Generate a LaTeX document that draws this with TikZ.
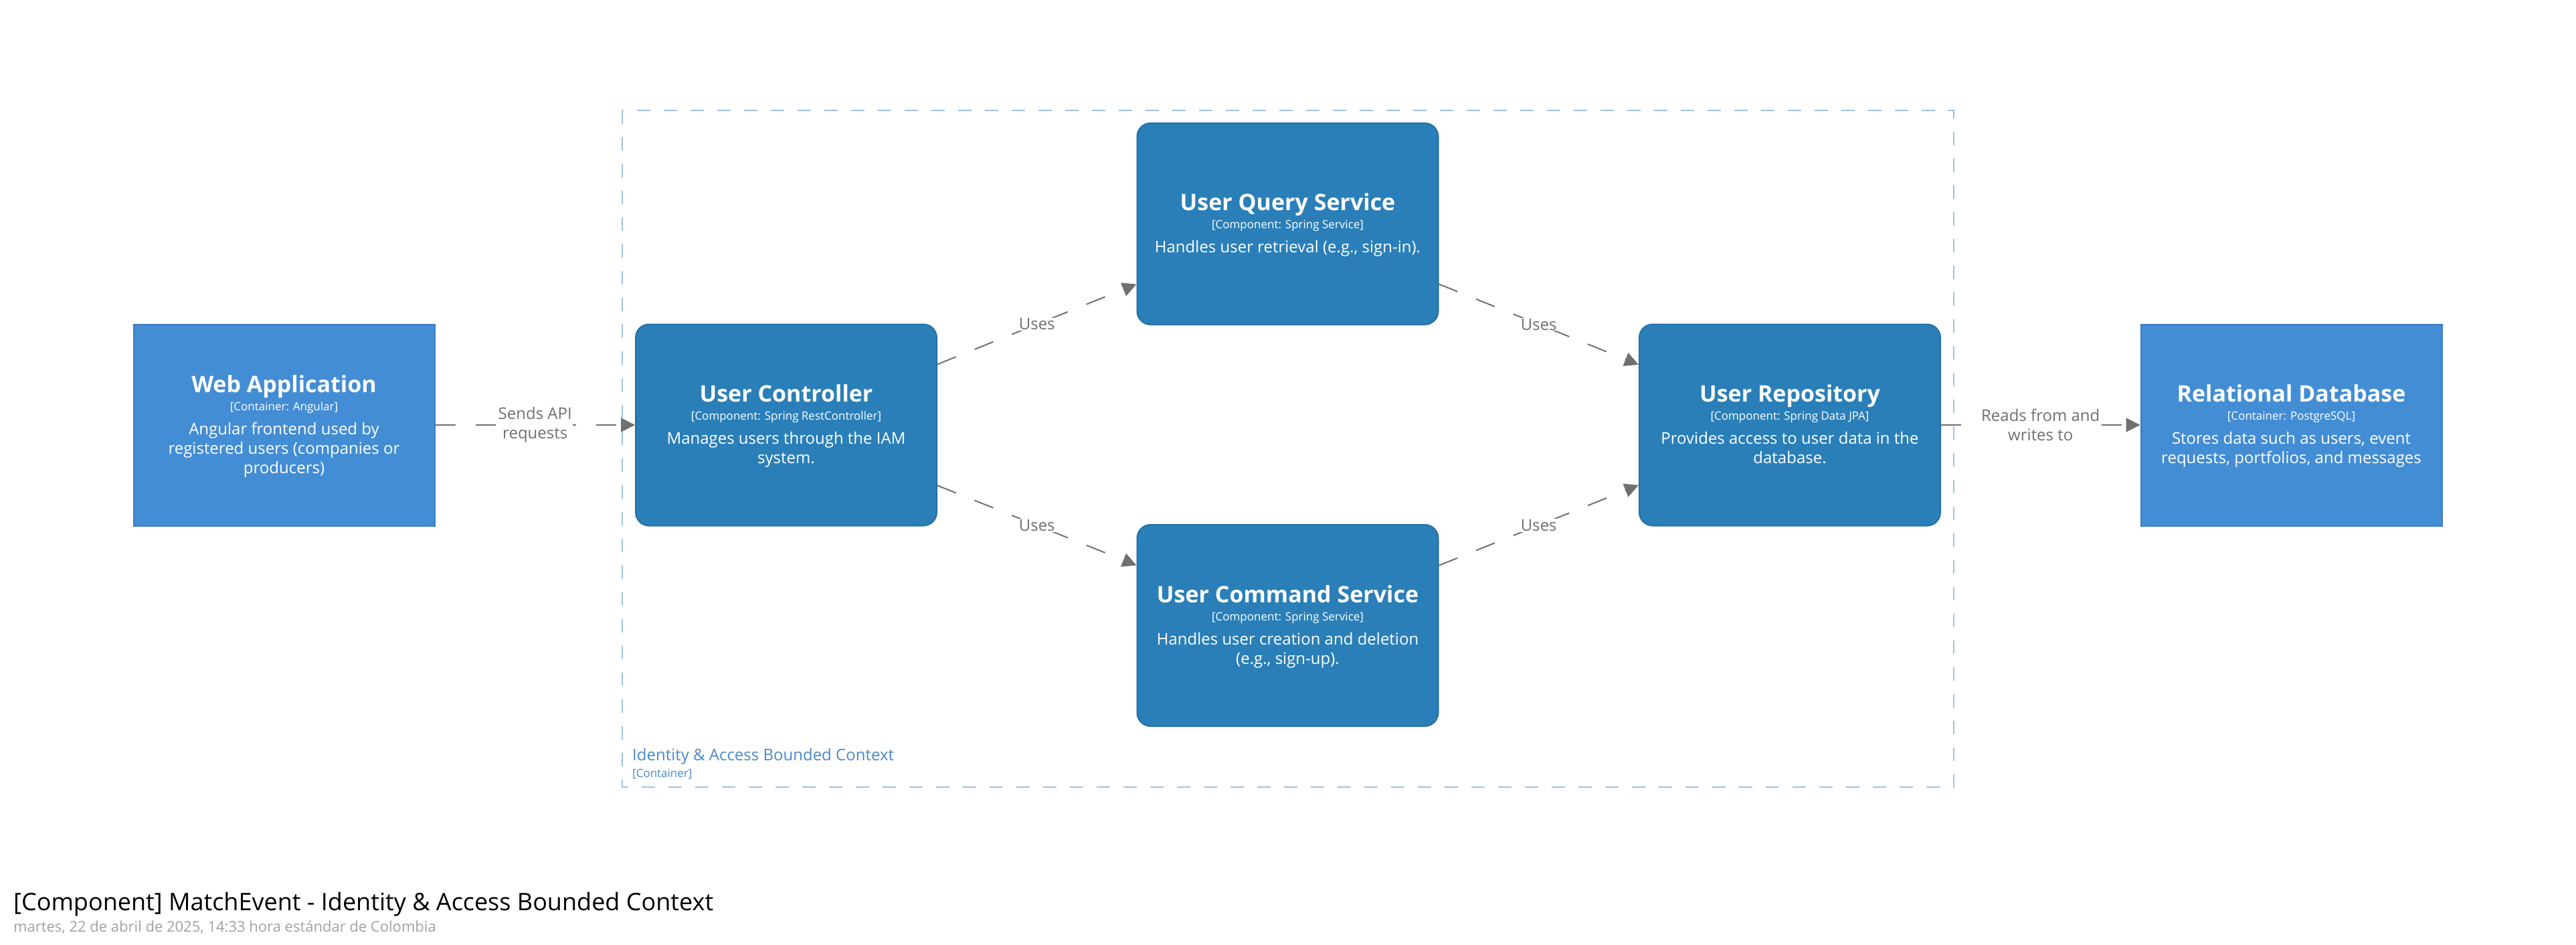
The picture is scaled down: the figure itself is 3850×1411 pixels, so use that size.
\documentclass[tikz,border=0pt]{standalone}
\usepackage{fontspec}
\setmainfont{Open Sans}
\usetikzlibrary{arrows.meta}
\definecolor{contfill}{HTML}{438DD5}
\definecolor{contline}{HTML}{3A7BBF}
\definecolor{compfill}{HTML}{2A7FB8}
\definecolor{compline}{HTML}{2470A6}
\definecolor{relgray}{HTML}{707070}
\definecolor{bndline}{HTML}{9EC1E3}
\definecolor{bndtext}{HTML}{4A88C8}
\definecolor{dategray}{HTML}{A0A0A0}
\tikzset{
  boxbase/.style={minimum width=450pt, minimum height=301pt, inner sep=0pt, line width=2pt},
  contbox/.style={boxbase, draw=contline, fill=contfill},
  compbox/.style={boxbase, draw=compline, fill=compfill, rounded corners=20pt},
  nametext/.style={anchor=base, inner sep=0pt, text=white, font=\fontsize{34}{40}\selectfont\bfseries},
  metatext/.style={anchor=base, inner sep=0pt, text=white, font=\fontsize{17}{20}\selectfont},
  desctext/.style={anchor=base, inner sep=0pt, text=white, font=\fontsize{24}{29}\selectfont},
  rel/.style={draw=relgray, line width=2pt, dash pattern=on 30pt off 30pt, -{Triangle[length=21pt,width=21pt]}},
  rellabel/.style={fill=white, inner sep=1pt, text=relgray, align=center, font=\fontsize{24}{29}\selectfont},
}
\newcommand\cbox[8]{%
  \node[#2] (#1) at (#3,#4) {};
  \pgfmathsetmacro\nb{-49+(3-#7)*14.5}
  \node[nametext] (#1-n) at (#3,{#4+\nb}) {#5};
  \node[metatext] (#1-m) at (#3,{#4+\nb+27}) {#6};
  \foreach \ln [count=\i] in {#8} {
    \node[desctext] (#1-d\i) at (#3,{#4+\nb+63+29*(\i-1)}) {\ln};
  }
}
\begin{document}
\begin{tikzpicture}[x=1pt, y=-1pt]
\useasboundingbox (0,0) rectangle (3850,1411);
% boundary
\draw[bndline, line width=2pt, dash pattern=on 20pt off 20pt] (930,165) rectangle (2920,1176);
\node[anchor=base west, inner sep=0pt, text=bndtext, font=\fontsize{24}{29}\selectfont] (bndname) at (945,1136) {Identity \& Access Bounded Context};
\node[anchor=base west, inner sep=0pt, text=bndtext, font=\fontsize{17}{20}\selectfont] (bndmeta) at (945,1161) {[Container]};
% elements
\cbox{web}{contbox}{424.5}{635}{Web Application}{[Container: Angular]}{3}{{Angular frontend used by},{registered users (companies or},{producers)}}
\cbox{uc}{compbox}{1175}{635}{User Controller}{[Component: Spring RestController]}{2}{{Manages users through the IAM},{system.}}
\cbox{uqs}{compbox}{1924.5}{334.5}{User Query Service}{[Component: Spring Service]}{1}{{Handles user retrieval (e.g., sign-in).}}
\cbox{ucs}{compbox}{1924.5}{934.5}{User Command Service}{[Component: Spring Service]}{2}{{Handles user creation and deletion},{(e.g., sign-up).}}
\cbox{ur}{compbox}{2675}{635}{User Repository}{[Component: Spring Data JPA]}{2}{{Provides access to user data in the},{database.}}
\cbox{db}{contbox}{3424.5}{635}{Relational Database}{[Container: PostgreSQL]}{2}{{Stores data such as users, event},{requests, portfolios, and messages}}
% relationships
\draw[rel] (web) -- node[rellabel] (l1) {Sends API\\requests} (uc);
\draw[rel] (uc) -- node[rellabel] (l2) {Uses} (uqs);
\draw[rel] (uc) -- node[rellabel] (l3) {Uses} (ucs);
\draw[rel] (uqs) -- node[rellabel] (l4) {Uses} (ur);
\draw[rel] (ucs) -- node[rellabel] (l5) {Uses} (ur);
\draw[rel] (ur) -- node[rellabel] (l6) {Reads from and\\writes to} (db);
% title
\node[anchor=base west, inner sep=0pt, font=\fontsize{36}{43}\selectfont] (title) at (20,1360) {[Component] MatchEvent - Identity \& Access Bounded Context};
\node[anchor=base west, inner sep=0pt, text=dategray, font=\fontsize{22}{26}\selectfont] (date) at (20,1392) {martes, 22 de abril de 2025, 14:33 hora estándar de Colombia};
\end{tikzpicture}
\end{document}
